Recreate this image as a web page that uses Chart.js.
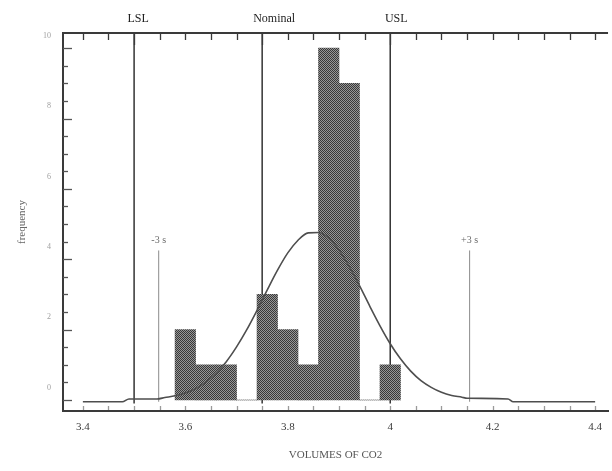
<!DOCTYPE html>
<html>
<head>
<meta charset="utf-8">
<script src="https://cdn.jsdelivr.net/npm/chart.js@4.4.1/dist/chart.umd.min.js"></script>
<style>
  html, body { margin: 0; padding: 0; background: #fff; }
  canvas { display: block; }
</style>
</head>
<body>
<canvas id="c" width="612" height="471"></canvas>
<script>
// Histogram of CO2 volumes: bin centres (width 0.04) and counts
const binCenters = [3.60, 3.64, 3.68, 3.72, 3.76, 3.80, 3.84, 3.88, 3.92, 3.96, 4.00];
const binCounts  = [2,    1,    1,    0,    3,    2,    1,    10,   9,    0,    1];

// Fitted normal curve, in frequency units
const curveX = [3.400, 3.477, 3.490, 3.545, 3.560, 3.580, 3.600, 3.620, 3.640, 3.660,
                3.680, 3.700, 3.720, 3.740, 3.760, 3.780, 3.800, 3.820, 3.840, 3.860,
                3.880, 3.900, 3.920, 3.940, 3.960, 3.980, 4.000, 4.020, 4.040, 4.060,
                4.080, 4.100, 4.120, 4.140, 4.150, 4.230, 4.240, 4.400];
const curveY = [-0.05, -0.05, 0.03, 0.03, 0.07, 0.12, 0.20, 0.32, 0.51, 0.76,
                1.09, 1.51, 2.00, 2.55, 3.13, 3.69, 4.18, 4.54, 4.75, 4.76,
                4.60, 4.26, 3.79, 3.25, 2.67, 2.11, 1.60, 1.17, 0.82, 0.55,
                0.36, 0.22, 0.13, 0.08, 0.05, 0.03, -0.05, -0.05];

// Specification limits and +/- 3 sigma markers
const specNames  = ['LSL', 'Nominal', 'USL'];
const specValues = [3.50, 3.75, 4.00];
const sigmaNames  = ['-3 s', '+3 s'];
const sigmaValues = [3.548, 4.155];
const sigmaTop = 4.25;

// Axis ticks
const xTickValues = [3.4, 3.6, 3.8, 4.0, 4.2, 4.4];
const xTickLabels = ['3.4', '3.6', '3.8', '4', '4.2', '4.4'];
const yTickValues = [0.35, 2.35, 4.35, 6.35, 8.35, 10.35];
const yTickLabels = ['0', '2', '4', '6', '8', '10'];

const X_MIN = 3.3612, X_MAX = 4.4252;
const Y_MIN = -0.3125, Y_MAX = 10.43;

const canvas = document.getElementById('c');
const ctx0 = canvas.getContext('2d');

// Fine halftone fill for the bars
function halftone() {
  const c = document.createElement('canvas');
  c.width = 2; c.height = 2;
  const g = c.getContext('2d');
  g.fillStyle = '#979797'; g.fillRect(0, 0, 2, 2);
  g.fillStyle = '#383838'; g.fillRect(0, 0, 1, 1); g.fillRect(1, 1, 1, 1);
  return ctx0.createPattern(c, 'repeat');
}

const SERIF = '"Liberation Serif", "Times New Roman", serif';
// small rightward nudges of the limit captions relative to their lines
const CAPTION_SHIFT = [4, 12, 6];

// Frame, inward tick marks and line annotations
const frameDecor = {
  id: 'frameDecor',
  afterDatasetsDraw(chart) {
    const { ctx, chartArea: a, scales: { x, y } } = chart;
    ctx.save();
    ctx.strokeStyle = '#3a3a3a';
    ctx.lineWidth = 2;
    ctx.beginPath();
    ctx.moveTo(a.left, a.top);
    ctx.lineTo(a.right, a.top);
    ctx.stroke();

    ctx.lineWidth = 1.3;
    for (let i = 0; i <= 20; i++) {
      const v = 3.4 + i * 0.05;
      const px = Math.round(x.getPixelForValue(v)) + 0.5;
      const isSpec = specValues.some(s => Math.abs(s - v) < 1e-6);
      ctx.strokeStyle = '#3a3a3a';
      ctx.beginPath();
      ctx.moveTo(px, a.top);
      ctx.lineTo(px, a.top + (isSpec ? 12 : 7));
      ctx.stroke();
      ctx.strokeStyle = '#9a9a9a';
      ctx.beginPath();
      ctx.moveTo(px, a.bottom - 1);
      ctx.lineTo(px, a.bottom - 5);
      ctx.stroke();
    }

    ctx.strokeStyle = '#555';
    for (let i = 0; i <= 20; i++) {
      const v = i * 0.5;
      const py = Math.round(y.getPixelForValue(v)) + 0.5;
      const major = i % 4 === 0;
      ctx.beginPath();
      ctx.moveTo(a.left, py);
      ctx.lineTo(a.left + (major ? 9 : 5), py);
      ctx.stroke();
    }

    ctx.textAlign = 'center';
    ctx.textBaseline = 'middle';
    ctx.fillStyle = '#1e1e1e';
    ctx.font = '12px ' + SERIF;
    specNames.forEach((name, i) => {
      ctx.fillText(name, x.getPixelForValue(specValues[i]) + CAPTION_SHIFT[i], 19);
    });

    ctx.fillStyle = '#6a6a6a';
    ctx.font = '10px ' + SERIF;
    sigmaNames.forEach((name, i) => {
      ctx.fillText(name, x.getPixelForValue(sigmaValues[i]), y.getPixelForValue(sigmaTop) - 10);
    });
    ctx.restore();
  }
};

const datasets = [];
datasets.push({
  type: 'line',
  data: curveX.map((v, i) => ({ x: v, y: curveY[i] })),
  borderColor: '#4e4e4e',
  borderWidth: 1.6,
  pointRadius: 0,
  cubicInterpolationMode: 'monotone',
  order: 0
});
datasets.push({
  type: 'bar',
  data: binCenters.map((v, i) => ({ x: v, y: binCounts[i] })),
  backgroundColor: halftone(),
  borderWidth: 0,
  barPercentage: 1,
  categoryPercentage: 1,
  order: 1
});
specValues.forEach(v => datasets.push({
  type: 'line',
  data: [{ x: v, y: -0.1 }, { x: v, y: Y_MAX }],
  borderColor: '#333',
  borderWidth: 1.5,
  pointRadius: 0,
  order: 2
}));
sigmaValues.forEach(v => datasets.push({
  type: 'line',
  data: [{ x: v, y: -0.05 }, { x: v, y: sigmaTop }],
  borderColor: '#8c8c8c',
  borderWidth: 1,
  pointRadius: 0,
  order: 2
}));

new Chart(canvas, {
  type: 'bar',
  data: { datasets },
  options: {
    responsive: false,
    devicePixelRatio: 1,
    animation: false,
    layout: { padding: { top: 33, right: 0, bottom: 0, left: 0 } },
    plugins: { legend: { display: false }, tooltip: { enabled: false } },
    scales: {
      x: {
        type: 'linear',
        min: X_MIN,
        max: X_MAX,
        offset: false,
        grid: { display: false, drawTicks: false },
        border: { display: true, color: '#3a3a3a', width: 2 },
        afterBuildTicks: s => { s.ticks = xTickValues.map(v => ({ value: v })); },
        ticks: {
          autoSkip: false, maxRotation: 0, padding: 10, color: '#3a3a3a',
          font: { family: SERIF, size: 11 },
          callback: (v, i) => xTickLabels[i]
        },
        title: {
          display: true, text: 'VOLUMES OF CO2', color: '#555',
          font: { family: SERIF, size: 11 }, padding: { top: 0, bottom: 9 }
        },
        afterFit: s => { s.height = 60; }
      },
      y: {
        type: 'linear',
        min: Y_MIN,
        max: Y_MAX,
        grid: { display: false, drawTicks: false },
        border: { display: true, color: '#3a3a3a', width: 2 },
        afterBuildTicks: s => { s.ticks = yTickValues.map(v => ({ value: v })); },
        ticks: {
          padding: 12, color: '#a0a0a0',
          font: { family: SERIF, size: 8 },
          callback: (v, i) => yTickLabels[i]
        },
        title: {
          display: true, text: 'frequency', color: '#666',
          font: { family: SERIF, size: 11 }, padding: { top: 16, bottom: 0 }
        },
        afterFit: s => { s.width = 63; }
      }
    }
  },
  plugins: [frameDecor]
});
</script>
</body>
</html>
